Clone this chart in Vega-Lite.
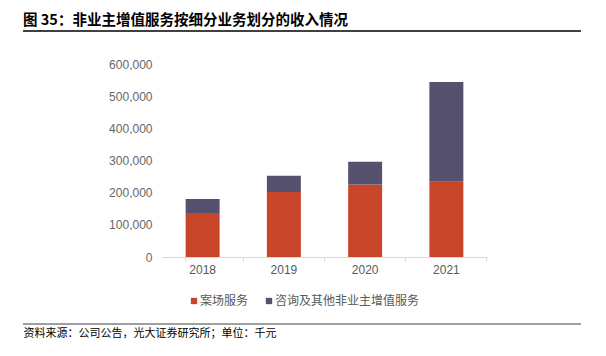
{
  "$schema": "https://vega.github.io/schema/vega-lite/v6.json",
  "width": 558,
  "height": 293,
  "autosize": {"type": "none"},
  "padding": {"left": 23, "top": 31, "right": 25, "bottom": 32},
  "background": "white",
  "title": {
    "text": "图 35：非业主增值服务按细分业务划分的收入情况",
    "anchor": "start",
    "frame": "group",
    "font": "Noto Sans CJK SC",
    "fontSize": 14.5,
    "fontWeight": "bold",
    "color": "#000000",
    "baseline": "bottom",
    "offset": -12
  },
  "config": {
    "view": {"stroke": null}
  },
  "layer": [
    {
      "data": {
        "values": [
          {"year": "2018", "type": "案场服务", "value": 136800},
          {"year": "2018", "type": "咨询及其他非业主增值服务", "value": 43500},
          {"year": "2019", "type": "案场服务", "value": 202000},
          {"year": "2019", "type": "咨询及其他非业主增值服务", "value": 50700},
          {"year": "2020", "type": "案场服务", "value": 225700},
          {"year": "2020", "type": "咨询及其他非业主增值服务", "value": 70600},
          {"year": "2021", "type": "案场服务", "value": 234100},
          {"year": "2021", "type": "咨询及其他非业主增值服务", "value": 309900}
        ]
      },
      "mark": {"type": "bar"},
      "encoding": {
        "x": {
          "field": "year",
          "type": "nominal",
          "scale": {"range": [139, 464], "paddingInner": 0.582, "paddingOuter": 0.291},
          "axis": {
            "title": "资料来源：公司公告，光大证券研究所；单位：千元",
            "titleFont": "Noto Sans CJK SC",
            "titleFontSize": 11,
            "titleFontWeight": "normal",
            "titleColor": "#000000",
            "titleX": 0,
            "titleY": 79,
            "titleAlign": "left",
            "titleAnchor": null,
            "titleBaseline": "alphabetic",
            "offset": -67,
            "labelAngle": 0,
            "labelFont": "Liberation Sans",
            "labelFontSize": 12,
            "labelColor": "#595959",
            "labelPadding": 3,
            "domainColor": "#d9d9d9",
            "tickColor": "#d9d9d9",
            "tickSize": 4,
            "bandPosition": 1.696,
            "tickExtra": true,
            "grid": false
          }
        },
        "y": {
          "field": "value",
          "type": "quantitative",
          "stack": "zero",
          "scale": {"domain": [0, 600000], "range": [226, 33], "nice": false, "zero": true},
          "axis": {
            "title": null,
            "values": [0, 100000, 200000, 300000, 400000, 500000, 600000],
            "format": ",.0f",
            "offset": -139,
            "domain": false,
            "ticks": false,
            "grid": false,
            "labelFont": "Liberation Sans",
            "labelFontSize": 12,
            "labelColor": "#666666",
            "labelPadding": 10
          }
        },
        "color": {
          "field": "type",
          "type": "nominal",
          "sort": ["案场服务", "咨询及其他非业主增值服务"],
          "scale": {"domain": ["案场服务", "咨询及其他非业主增值服务"], "range": ["#c8452a", "#56506f"]},
          "legend": {
            "title": null,
            "orient": "none",
            "direction": "horizontal",
            "legendX": 165,
            "legendY": 264,
            "padding": 0,
            "symbolType": "square",
            "symbolSize": 40,
            "symbolStrokeWidth": 0,
            "labelFont": "Noto Sans CJK SC",
            "labelFontSize": 12,
            "labelColor": "#595959",
            "labelOffset": 0,
            "columnPadding": 14
          }
        },
        "order": {"field": "type", "sort": "descending"}
      }
    },
    {
      "data": {
        "values": [
          {"line": "header", "pos": 1},
          {"line": "footer", "pos": 0}
        ]
      },
      "mark": {"type": "rule"},
      "encoding": {
        "y": {"field": "pos", "type": "quantitative", "scale": {"domain": [0, 1]}, "axis": null},
        "color": {"value": "#404040", "condition": {"test": "datum.pos == 1", "value": "#000000"}},
        "strokeWidth": {"value": 1, "condition": {"test": "datum.pos == 1", "value": 1.5}}
      }
    }
  ],
  "resolve": {"scale": {"y": "independent", "color": "independent"}}
}
